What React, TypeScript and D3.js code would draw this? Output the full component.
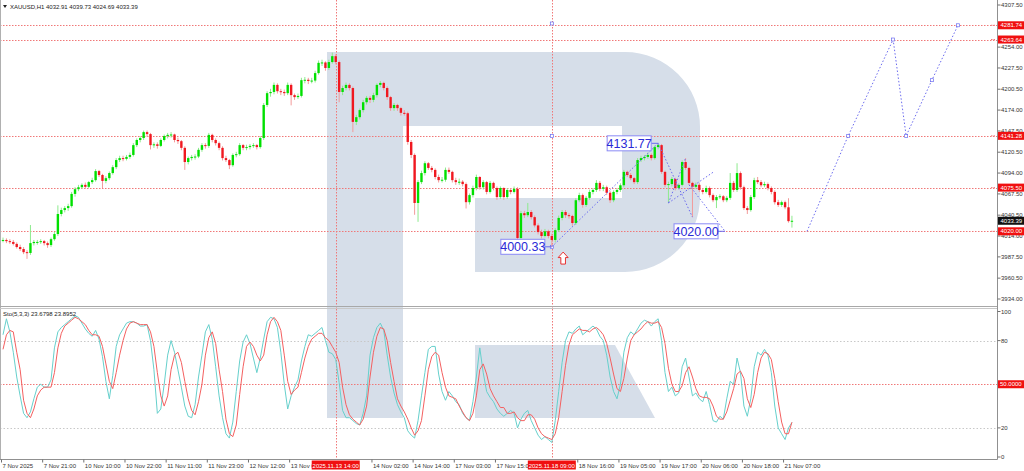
import React, { useEffect } from "react";
import * as d3 from "d3";

// XAUUSD H1 candles: [open, high, low, close]
const candles: [number, number, number, number][] = [
  [4008, 4012, 4006, 4009], [4009, 4011, 4005, 4007.5], [4007.5, 4010, 4004, 4006.5], [4006.5, 4009, 4002, 4004],
  [4004, 4006, 3998, 4000], [4000, 4003, 3995, 3997.5], [3997.5, 4000, 3991, 3993.5], [3993.5, 3996, 3985, 3992.5],
  [3992.5, 4028, 3990, 4005], [4005, 4009, 4002, 4006.5], [4006.5, 4009, 4003, 4006.5], [4006.5, 4010, 4004, 4007.5],
  [4007.5, 4009, 4002, 4005], [4005, 4007, 3999, 4002.5], [4002.5, 4012, 4000, 4010], [4010, 4019, 4008, 4016.5],
  [4016.5, 4053, 4014, 4042], [4042, 4050, 4039, 4047], [4047, 4052, 4044, 4049.5], [4049.5, 4055, 4046, 4052],
  [4052, 4070, 4050, 4067.5], [4067.5, 4076, 4064, 4073.5], [4073.5, 4079, 4071, 4076], [4076, 4081, 4074, 4079],
  [4079, 4082, 4074, 4076.5], [4076.5, 4084, 4075, 4082.5], [4082.5, 4088, 4080, 4085], [4085, 4099, 4083, 4096.5],
  [4096.5, 4098, 4089, 4091.5], [4091.5, 4093, 4075, 4084], [4084, 4090, 4081, 4087.5], [4087.5, 4096, 4085, 4094],
  [4094, 4104, 4092, 4101.5], [4101.5, 4113, 4099, 4110.5], [4110.5, 4116, 4108, 4113], [4113, 4116, 4109, 4112],
  [4112, 4117, 4110, 4114.5], [4114.5, 4120, 4112, 4117], [4117, 4132, 4115, 4129.5], [4129.5, 4138, 4127, 4136],
  [4136, 4141, 4133, 4138.5], [4138.5, 4148, 4136, 4146], [4146, 4148, 4140, 4143.5], [4143.5, 4145, 4124, 4129.5],
  [4129.5, 4133, 4126, 4130.5], [4130.5, 4133, 4125, 4128.5], [4128.5, 4138, 4127, 4136], [4136, 4143, 4134, 4141],
  [4141, 4145, 4138, 4142.5], [4142.5, 4146, 4139, 4143], [4143, 4144, 4133, 4136], [4136, 4139, 4131, 4134.5],
  [4134.5, 4136, 4123, 4126], [4126, 4128, 4098, 4108], [4108, 4115, 4105, 4113], [4113, 4117, 4110, 4114.5],
  [4114.5, 4118, 4111, 4115], [4115, 4126, 4113, 4123.5], [4123.5, 4132, 4121, 4129.5], [4129.5, 4132, 4125, 4128.5],
  [4128.5, 4145, 4126, 4142.5], [4142.5, 4144, 4133, 4136], [4136, 4138, 4129, 4132], [4132, 4134, 4123, 4126],
  [4126, 4128, 4110, 4113], [4113, 4116, 4108, 4110.5], [4110.5, 4112, 4099, 4104], [4104, 4119, 4102, 4117],
  [4117, 4121, 4114, 4118], [4118, 4132, 4116, 4129.5], [4129.5, 4131, 4123, 4126], [4126, 4130, 4123, 4127],
  [4127, 4131, 4124, 4128.5], [4128.5, 4132, 4126, 4129.5], [4129.5, 4131, 4124, 4127], [4127, 4141, 4125, 4138.5],
  [4138.5, 4183, 4136, 4180.5], [4180.5, 4198, 4178, 4195.5], [4195.5, 4201, 4191, 4197], [4197, 4209, 4194, 4206],
  [4206, 4208, 4195, 4198], [4198, 4201, 4193, 4197], [4197, 4200, 4192, 4195.5], [4195.5, 4209, 4193, 4206],
  [4206, 4208, 4180, 4193], [4193, 4195, 4187, 4190.5], [4190.5, 4195, 4188, 4192], [4192, 4215, 4190, 4212],
  [4212, 4216, 4208, 4212.5], [4212.5, 4215, 4207, 4211], [4211, 4215, 4208, 4211.5], [4211.5, 4224, 4209, 4221],
  [4221, 4237, 4219, 4234], [4234, 4238, 4230, 4234.5], [4234.5, 4236, 4224, 4227.5], [4227.5, 4238, 4225, 4235],
  [4235, 4247, 4233, 4242.5], [4242.5, 4245, 4232, 4235], [4235, 4237, 4184, 4197], [4197, 4205, 4193, 4202],
  [4202, 4209, 4199, 4206], [4206, 4208, 4199, 4202], [4202, 4204, 4146, 4159], [4159, 4168, 4155, 4165],
  [4165, 4176, 4162, 4174], [4174, 4187, 4171, 4184], [4184, 4192, 4181, 4189.5], [4189.5, 4192, 4183, 4187],
  [4187, 4196, 4184, 4193], [4193, 4208, 4190, 4206], [4206, 4211, 4203, 4208.5], [4208.5, 4210, 4199, 4202],
  [4202, 4204, 4187, 4190.5], [4190.5, 4192, 4173, 4176.5], [4176.5, 4183, 4173, 4180.5], [4180.5, 4182, 4173, 4176.5],
  [4176.5, 4178, 4167, 4170.5], [4170.5, 4174, 4167, 4170], [4170, 4172, 4130, 4133.5], [4133.5, 4136, 4113, 4117],
  [4117, 4119, 4041, 4056], [4056, 4085, 4032, 4082.5], [4082.5, 4097, 4080, 4094], [4094, 4109, 4091, 4106.5],
  [4106.5, 4108, 4098, 4100.5], [4100.5, 4103, 4095, 4098], [4098, 4100, 4086, 4089], [4089, 4092, 4082, 4085],
  [4085, 4089, 4082, 4085.5], [4085.5, 4101, 4083, 4098], [4098, 4101, 4093, 4095.5], [4095.5, 4097, 4082, 4085],
  [4085, 4088, 4079, 4082.5], [4082.5, 4087, 4079, 4083], [4083, 4085, 4077, 4080], [4080, 4082, 4049, 4057],
  [4057, 4068, 4054, 4066], [4066, 4078, 4063, 4075], [4075, 4092, 4072, 4089], [4089, 4090, 4073, 4076],
  [4076, 4085, 4073, 4082.5], [4082.5, 4084, 4067, 4070], [4070, 4084, 4068, 4081.5], [4081.5, 4083, 4072, 4075],
  [4075, 4077, 4060, 4063.5], [4063.5, 4077, 4061, 4075], [4075, 4076, 4060, 4063.5], [4063.5, 4075, 4061, 4072.5],
  [4072.5, 4075, 4067, 4070], [4070, 4077, 4068, 4074], [4074, 4076, 4008, 4011.5], [4011.5, 4046, 4009, 4043],
  [4043, 4046, 4037, 4040.5], [4040.5, 4056, 4038, 4044.5], [4044.5, 4047, 4035, 4038], [4038, 4040, 4025, 4027.5],
  [4027.5, 4030, 4016, 4019], [4019, 4022, 4011, 4014], [4014, 4023, 4012, 4020], [4020, 4022, 4011, 4014],
  [4014, 4017, 4000.33, 4009], [4009, 4024, 4006, 4021.5], [4021.5, 4040, 4019, 4037], [4037, 4047, 4034, 4044.5],
  [4044.5, 4047, 4037, 4040.5], [4040.5, 4043, 4036, 4039.5], [4039.5, 4041, 4027, 4030.5], [4030.5, 4062, 4028, 4059.5],
  [4059.5, 4069, 4057, 4066], [4066, 4068, 4050, 4053.5], [4053.5, 4065, 4051, 4062.5], [4062.5, 4073, 4060, 4070],
  [4070, 4075, 4067, 4072.5], [4072.5, 4085, 4070, 4081.5], [4081.5, 4084, 4071, 4074], [4074, 4079, 4071, 4076],
  [4076, 4078, 4066, 4069], [4069, 4071, 4056, 4059.5], [4059.5, 4072, 4057, 4070], [4070, 4075, 4067, 4072.5],
  [4072.5, 4081, 4070, 4078.5], [4078.5, 4098, 4076, 4095.5], [4095.5, 4097, 4089, 4091.5], [4091.5, 4094, 4085, 4087.5],
  [4087.5, 4089, 4080, 4082.5], [4082.5, 4113, 4080, 4110.5], [4110.5, 4116, 4108, 4113], [4113, 4117, 4110, 4114.5],
  [4114.5, 4120, 4112, 4117], [4117, 4119, 4110, 4113], [4113, 4129, 4111, 4127], [4127, 4131.77, 4124, 4129.5],
  [4129.5, 4131, 4093, 4095.5], [4095.5, 4097, 4076, 4079], [4079, 4083, 4056, 4080], [4080, 4089, 4077, 4086.5],
  [4086.5, 4088, 4072, 4075], [4075, 4081, 4073, 4079], [4079, 4110, 4077, 4108], [4108, 4113, 4098, 4100.5],
  [4100.5, 4102, 4079, 4081.5], [4081.5, 4083, 4038, 4076.5], [4076.5, 4082, 4074, 4079], [4079, 4081, 4070, 4072.5],
  [4072.5, 4075, 4067, 4070], [4070, 4078, 4068, 4075], [4075, 4077, 4063, 4066], [4066, 4068, 4057, 4059.5],
  [4059.5, 4066, 4049.5, 4063.5], [4063.5, 4067, 4061, 4064.5], [4064.5, 4066, 4057, 4059.5], [4059.5, 4065, 4057, 4062.5],
  [4062.5, 4094, 4060, 4081.5], [4081.5, 4084, 4070, 4072.5], [4072.5, 4106.5, 4070, 4094], [4094, 4096, 4073, 4076],
  [4076, 4078, 4047, 4049.5], [4049.5, 4052, 4042, 4047], [4047, 4066, 4045, 4063.5], [4063.5, 4088, 4061, 4085],
  [4085, 4089, 4080, 4082.5], [4082.5, 4085, 4076, 4078.5], [4078.5, 4083, 4076, 4080], [4080, 4082, 4072, 4075],
  [4075, 4077, 4067, 4070], [4070, 4072, 4054, 4057], [4057, 4060, 4051, 4053.5], [4053.5, 4059, 4051, 4057],
  [4057, 4059, 4048, 4050.5], [4050.5, 4062, 4031, 4032.91], [4032.91, 4039.73, 4024.69, 4033.39],
];

// Stochastic (5,3,3): main (%K) and signal (%D)
const stochK: number[] = [
  84, 95, 86, 72, 55, 42, 30, 27, 31, 40, 48, 50, 48, 48, 53, 75, 86, 89, 91, 93,
  95, 97, 96, 92, 88, 85, 83, 87, 81, 69, 52, 40, 56, 76, 84, 88, 92, 93, 93, 92,
  90, 90, 91, 80, 60, 30, 33, 50, 70, 80, 72, 60, 48, 35, 28, 27, 36, 55, 70, 86,
  91, 81, 62, 42, 27, 16, 13, 24, 45, 66, 79, 84, 78, 68, 58, 68, 81, 93, 96, 95,
  89, 72, 50, 33, 42, 48, 53, 66, 76, 84, 83, 85, 87, 89, 80, 72, 71, 67, 51, 32,
  27, 27, 25, 23, 22, 30, 42, 70, 82, 89, 92, 87, 70, 55, 44, 36, 31, 27, 18, 15,
  13, 25, 42, 58, 74, 76, 76, 57, 45, 39, 45, 42, 38, 36, 30, 27, 25, 38, 55, 75,
  58, 45, 41, 38, 33, 30, 28, 30, 32, 30, 20, 26, 30, 32, 25, 20, 15, 12, 14, 12,
  10, 25, 45, 65, 80, 86, 85, 88, 90, 84, 86, 88, 90, 88, 83, 80, 70, 55, 45, 40,
  50, 72, 82, 86, 84, 88, 92, 94, 93, 90, 93, 95, 80, 58, 45, 48, 42, 44, 62, 68,
  55, 42, 44, 40, 38, 45, 36, 25, 24, 28, 26, 40, 52, 50, 68, 58, 35, 28, 40, 62,
  72, 70, 74, 70, 58, 35, 20, 16, 12, 20, 23.6798,
];
const stochD: number[] = [
  74, 84, 87, 86, 72, 60, 39, 30, 27, 33, 42, 46, 48, 48, 48, 58, 75, 85, 90, 92,
  94, 96, 95, 93, 91, 87, 84, 84, 83, 76, 64, 52, 47, 58, 70, 80, 88, 92, 93, 92,
  91, 91, 91, 86, 76, 58, 42, 35, 42, 60, 70, 72, 65, 52, 40, 32, 29, 38, 50, 70,
  82, 86, 78, 60, 45, 26, 16, 14, 22, 43, 62, 76, 79, 76, 70, 66, 70, 84, 93, 96,
  93, 87, 70, 52, 43, 46, 48, 58, 68, 76, 81, 83, 85, 85, 82, 80, 76, 72, 65, 48,
  36, 29, 26, 24, 22, 26, 35, 55, 72, 83, 89, 88, 80, 65, 52, 40, 35, 31, 26, 20,
  15, 18, 25, 42, 60, 69, 72, 70, 58, 48, 42, 41, 40, 35, 31, 27, 25, 30, 42, 60,
  64, 57, 47, 42, 38, 34, 34, 30, 30, 31, 27, 25, 25, 29, 29, 26, 20, 16, 14, 13,
  12, 16, 27, 45, 63, 77, 84, 86, 88, 87, 87, 86, 88, 89, 87, 84, 78, 68, 57, 47,
  45, 54, 68, 80, 84, 86, 88, 91, 93, 92, 92, 93, 89, 78, 61, 50, 45, 45, 49, 58,
  62, 55, 47, 42, 41, 41, 40, 35, 28, 26, 26, 31, 39, 47, 57, 59, 54, 40, 34, 43,
  58, 68, 72, 71, 67, 54, 38, 24, 16, 16, 23.8952,
];

const priceTicks = [4307.5, 4254.0, 4227.5, 4200.5, 4174.0, 4147.5, 4120.5, 4094.0, 4067.5, 4040.5, 4014.0, 3987.5, 3960.5, 3934.0];
const levels = [4281.74, 4263.64, 4141.28, 4075.5, 4020.0];
const lastPrice = 4033.39;

// time labels (the ones under the red marker boxes are cut in the original)
const timeBars = [0, 12, 24, 36, 48, 60, 72, 84, 108, 120, 132, 144, 168, 180, 192, 204, 216, 228];
const timeLabels = [
  "7 Nov 2025", "7 Nov 21:00", "10 Nov 10:00", "10 Nov 22:00", "11 Nov 11:00", "11 Nov 23:00",
  "12 Nov 12:00", "13 Nov 0", "14 Nov 02:00", "14 Nov 14:00", "17 Nov 03:00",
  "17 Nov 15:00", "18 Nov 16:00", "19 Nov 05:00", "19 Nov 17:00", "20 Nov 06:00",
  "20 Nov 18:00", "21 Nov 07:00",
];
const markerBars = [97, 160];
const markerLabels = ["2025.11.13 14:00", "2025.11.18 09:00"];

// wave markup drawn by the analyst: [bar, price]
const waveLines: [number, number][][] = [
  [[160, 4000.33], [191, 4131.77]],
  [[191, 4131.77], [201, 4038]],
  [[194, 4056], [199, 4113]],
  [[194, 4056], [207, 4095]],
  [[200, 4079], [210.5, 4020]],
];
const forecast: [number, number][] = [
  [234.4, 4020], [246.4, 4141.28], [259.5, 4263.64], [263.3, 4141.28], [270.8, 4212], [278.4, 4281.74],
];
const priceNotes: { text: string; bar: number; price: number }[] = [
  { text: "4131.77", bar: 191, price: 4131.77 },
  { text: "4000.33", bar: 160, price: 4000.33 },
  { text: "4020.00", bar: 210.5, price: 4020.0 },
];
const arrowAt: [number, number] = [163.3, 3986];

const FONT = "'Liberation Sans', Arial, sans-serif";
const UP = "#00e000";
const DOWN = "#f01820";
const LEVEL = "#f07878";
const BLUE = "#6b6bef";

export default function App() {
  useEffect(() => {
    document.body.style.margin = "0";
  }, []);

  const width = 1024;
  const height = 471;
  const axisX = 997.5;
  const sepY = 306.5;
  const bottomY = 459.5;

  const x = d3.scaleLinear().domain([0, 229]).range([3, 788.5]);
  const y = d3.scaleLinear().domain([3934, 4307.5]).range([299, 5]);
  const ys = d3.scaleLinear().domain([0, 100]).range([457, 311.5]);

  const stochLine = d3
    .line<number>()
    .x((_, i) => x(i))
    .y(d => ys(d));
  const waveLine = d3
    .line<[number, number]>()
    .x(d => x(d[0]))
    .y(d => y(d[1]));

  const bodyW = 2.4;

  return (
    <svg width={width} height={height} style={{ position: "absolute", left: 0, top: 0, background: "#fff" }} fontFamily={FONT}>
      <rect width={width} height={height} fill="#fff" />

      {/* watermark logo */}
      <path
        d="M327,52 H625 A75,75 0 0 1 700,127 V197 A75,75 0 0 1 625,272 H475 V198 H622 V126 H403 V418 H327 Z"
        fill="#d6dee9"
      />
      <path d="M475,345 H615 L655,418 H475 Z" fill="#d6dee9" />

      {/* horizontal levels */}
      {levels.map(l => (
        <line key={l} x1={0} x2={axisX} y1={Math.round(y(l)) + 0.5} y2={Math.round(y(l)) + 0.5}
          stroke={LEVEL} strokeDasharray="1.5,1.5" strokeWidth={1} />
      ))}

      {/* vertical markers */}
      {markerBars.map(b => (
        <line key={b} x1={Math.round(x(b)) + 0.5} x2={Math.round(x(b)) + 0.5} y1={0} y2={bottomY}
          stroke={LEVEL} strokeDasharray="1.5,1.5" />
      ))}
      {[4284, 4141.28, 4000.33].map(p => (
        <rect key={p} x={x(160) - 1.5} y={y(p) - 1.5} width={3} height={3} fill="#fff" stroke={BLUE} strokeWidth={0.7} />
      ))}

      {/* candles */}
      {candles.map(([o, h, l, c], i) => {
        const up = c >= o;
        const cx = x(i);
        const top = y(Math.max(o, c));
        const bh = Math.max(1, y(Math.min(o, c)) - top);
        return (
          <g key={i}>
            <line x1={cx} x2={cx} y1={y(h)} y2={y(l)} stroke={up ? "#8eea8e" : "#f29a9a"} strokeWidth={1} />
            <rect x={cx - bodyW / 2} y={top} width={bodyW} height={bh} fill={up ? UP : DOWN} />
          </g>
        );
      })}

      {/* wave markup */}
      {waveLines.map((seg, k) => (
        <path key={k} d={waveLine(seg) ?? ""} fill="none" stroke={BLUE} strokeWidth={1} strokeDasharray="1.5,2" />
      ))}
      <path d={waveLine(forecast) ?? ""} fill="none" stroke={BLUE} strokeWidth={1} strokeDasharray="1.5,2" />
      {forecast.slice(1).map((p, k) => (
        <rect key={k} x={x(p[0]) - 1.5} y={y(p[1]) - 1.5} width={3} height={3} fill="#fff" stroke={BLUE} strokeWidth={0.7} />
      ))}

      {priceNotes.map(n => {
        const px = x(n.bar);
        const py = y(n.price);
        const bw = 44;
        const right = px - 7;
        return (
          <g key={n.text}>
            <line x1={right} x2={px} y1={py} y2={py} stroke={BLUE} strokeWidth={1} />
            <rect x={right - bw} y={py - 7.5} width={bw} height={15} fill="#fff" stroke="#8a8af5" strokeWidth={1} />
            <text x={right - bw / 2} y={py + 4.5} textAnchor="middle" fontSize={12.5} fill="#2a2ad6">{n.text}</text>
          </g>
        );
      })}

      {/* up arrow */}
      <path
        transform={`translate(${x(arrowAt[0])},${y(arrowAt[1])})`}
        d="M0,-6 L5,-0.5 L2.3,-0.5 L2.3,6 L-2.3,6 L-2.3,-0.5 L-5,-0.5 Z"
        fill="#fff" stroke="#e83030" strokeWidth={1} />

      {/* stochastic levels */}
      {[80, 20].map(v => (
        <line key={v} x1={0} x2={axisX} y1={Math.round(ys(v)) + 0.5} y2={Math.round(ys(v)) + 0.5}
          stroke="#c8c8c8" strokeDasharray="1.5,2" />
      ))}
      <line x1={0} x2={axisX} y1={Math.round(ys(50)) + 0.5} y2={Math.round(ys(50)) + 0.5} stroke={LEVEL} strokeDasharray="1.5,1.5" />

      <path d={stochLine(stochK) ?? ""} fill="none" stroke="#66d0cc" strokeWidth={1} />
      <path d={stochLine(stochD) ?? ""} fill="none" stroke="#f46060" strokeWidth={1} />

      {/* frame */}
      <line x1={0.5} x2={0.5} y1={0} y2={bottomY} stroke="#b0b0b0" />
      <line x1={0} x2={axisX} y1={sepY} y2={sepY} stroke="#a8a8a8" />
      <line x1={0} x2={axisX} y1={sepY + 2} y2={sepY + 2} stroke="#c8c8c8" />
      <line x1={0} x2={axisX} y1={bottomY} y2={bottomY} stroke="#909090" />
      <line x1={axisX} x2={axisX} y1={0} y2={bottomY} stroke="#909090" />

      {/* header texts */}
      <path d="M3,5 L7,5 L5,8 Z" fill="#222" />
      <text x={10} y={9} fontSize={6} fill="#222">XAUUSD,H1  4032.91 4039.73 4024.69 4033.39</text>
      <text x={3} y={316} fontSize={6} fill="#222">Sto(5,3,3) 23.6798 23.8952</text>

      {/* price axis */}
      {priceTicks.map(t => (
        <g key={t}>
          <line x1={axisX} x2={axisX + 3} y1={y(t)} y2={y(t)} stroke="#707070" />
          <text x={1001} y={y(t) + 2} fontSize={6} fill="#333">{t.toFixed(2)}</text>
        </g>
      ))}
      {levels.map(l => (
        <g key={l}>
          <line x1={991} x2={996} y1={y(l)} y2={y(l)} stroke={LEVEL} strokeDasharray="1.5,1" />
          <rect x={998} y={y(l) - 4} width={26} height={8} fill="#f01010" />
          <text x={1000.5} y={y(l) + 2} fontSize={6} fill="#fff">{l.toFixed(2)}</text>
        </g>
      ))}
      <rect x={998} y={y(lastPrice) - 4} width={26} height={8} fill="#111" />
      <text x={1000.5} y={y(lastPrice) + 2} fontSize={6} fill="#fff">{lastPrice.toFixed(2)}</text>

      {/* stochastic axis */}
      {[100, 80, 20, 0].map(v => (
        <g key={v}>
          <line x1={axisX} x2={axisX + 3} y1={ys(v)} y2={ys(v)} stroke="#707070" />
          <text x={1001} y={ys(v) + 2} fontSize={6} fill="#333">{v}</text>
        </g>
      ))}
      <rect x={998} y={ys(50) - 4} width={26} height={8} fill="#f01010" />
      <text x={1000} y={ys(50) + 2} fontSize={6} fill="#fff">50.0000</text>

      {/* time axis */}
      {timeBars.map((b, k) => (
        <g key={b}>
          <line x1={x(b) - 1.5} x2={x(b) - 1.5} y1={bottomY} y2={bottomY + 3} stroke="#707070" />
          <text x={x(b) - 0.5} y={bottomY + 8.5} fontSize={6} fill="#333">{timeLabels[k]}</text>
        </g>
      ))}
      {markerBars.map((b, k) => (
        <g key={b}>
          <rect x={x(b) - 24} y={bottomY + 1} width={48} height={9} fill="#f01010" />
          <text x={x(b)} y={bottomY + 8} textAnchor="middle" fontSize={6} fill="#fff">{markerLabels[k]}</text>
        </g>
      ))}
    </svg>
  );
}
